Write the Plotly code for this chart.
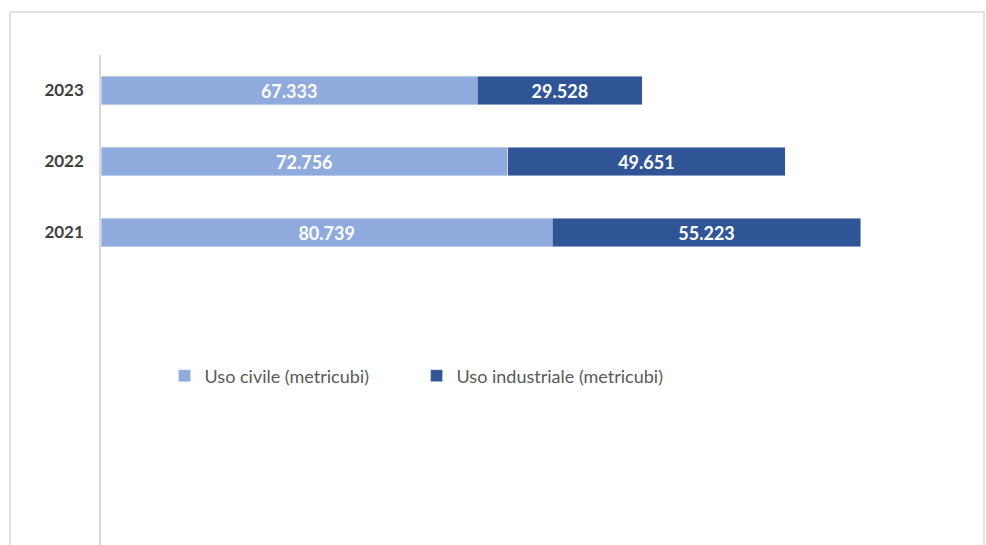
import plotly.graph_objects as go

anni = ["2021", "2022", "2023"]
uso_civile = [80739, 72756, 67333]
uso_industriale = [55223, 49651, 29528]

col_civile = "#8FAADC"
col_industriale = "#2F5597"

label_font = dict(color='white', size=18, family="Lato", weight='bold')

fig = go.Figure()
fig.add_trace(go.Bar(y=anni, x=uso_civile, orientation='h', name="Uso civile (metricubi)",
                     marker=dict(color=col_civile), texttemplate='%{x:,}', textposition='inside',
                     insidetextanchor='middle', textfont=label_font))
fig.add_trace(go.Bar(y=anni, x=uso_industriale, orientation='h', name="Uso industriale (metricubi)",
                     marker=dict(color=col_industriale), texttemplate='%{x:,}', textposition='inside',
                     insidetextanchor='middle', textfont=label_font))

fig.update_layout(
    barmode='stack', bargap=0.6, separators=',.',
    width=986, height=545, margin=dict(l=101, r=26, t=55, b=0),
    plot_bgcolor='white', paper_bgcolor='white',
    font=dict(family="Lato", color="#595959"),
    legend=dict(orientation='h', x=0.074, y=0.345, xanchor='left', yanchor='middle',
                font=dict(size=18, color="#595959"), entrywidth=207, traceorder='normal'),
    showlegend=True,
)
fig.update_xaxes(range=[0, 153700], visible=False)
fig.update_yaxes(type='category', range=[-4.4, 2.5], showline=True, linecolor='#D9D9D9', linewidth=1.5,
                 ticks='', showgrid=False, tickfont=dict(size=17, color='#404040', weight='bold'),
                 ticklabelstandoff=12)
fig.add_shape(type='rect', xref='paper', yref='paper', x0=-0.106, x1=1.028, y0=-0.2, y1=1.0878,
              line=dict(color='#D9D9D9', width=1.5), layer='below')

# drop the default page margin so the figure fills the window exactly
fig.write_html("out.html", config={'displayModeBar': False},
               post_script="document.body.style.margin='0';document.body.style.overflow='hidden';")
